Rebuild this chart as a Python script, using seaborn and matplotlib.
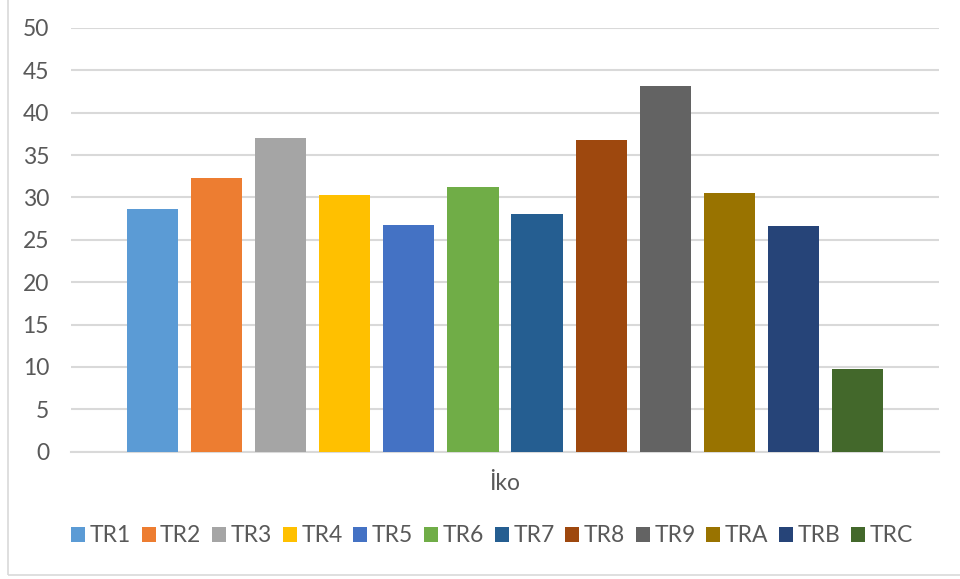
import matplotlib
matplotlib.use("Agg")
import matplotlib.pyplot as plt
from matplotlib.patches import Rectangle, Patch
import seaborn as sns
import pandas as pd

# Data
category = "İko"
regions = ["TR1", "TR2", "TR3", "TR4", "TR5", "TR6",
           "TR7", "TR8", "TR9", "TRA", "TRB", "TRC"]
values = [28.64, 32.28, 37.02, 30.29, 26.75, 31.24,
          28.05, 36.78, 43.16, 30.53, 26.65, 9.76]
colors = ["#5B9BD5", "#ED7D31", "#A5A5A5", "#FFC000", "#4472C4", "#70AD47",
          "#255E91", "#9E480E", "#636363", "#997300", "#264478", "#43682B"]
yticks = [0, 5, 10, 15, 20, 25, 30, 35, 40, 45, 50]

df = pd.DataFrame({"cat": [category] * len(regions), "region": regions, "value": values})

sns.set_theme(style="white")
plt.rcParams["font.family"] = ["Lato", "DejaVu Sans"]
text_color = "#595959"
grid_color = "#D9D9D9"

fig = plt.figure(figsize=(9.6, 5.79), dpi=100)
ax = fig.add_axes([71.3 / 960, 1 - 451.7 / 579, (938.7 - 71.3) / 960, (451.7 - 28) / 579])

sns.barplot(data=df, x="cat", y="value", hue="region", hue_order=regions,
            palette=colors, saturation=1, width=0.8855, gap=0.203,
            linewidth=0, edgecolor="none", legend=False, ax=ax, zorder=3)

ax.set_ylim(0, 50)
ax.set_xlim(-0.5, 0.5)
ax.set_yticks(yticks)
ax.set_yticklabels([str(t) for t in yticks])
ax.yaxis.grid(True, color=grid_color, linewidth=1.5, zorder=0)
ax.set_axisbelow(True)
for side in ["left", "right", "top"]:
    ax.spines[side].set_visible(False)
ax.spines["bottom"].set_color(grid_color)
ax.spines["bottom"].set_linewidth(1.5)
ax.tick_params(axis="y", length=0, pad=16, labelsize=16.5, labelcolor=text_color)
ax.tick_params(axis="x", length=0, pad=15, labelsize=16.5, labelcolor=text_color)
ax.set_xlabel("")
ax.set_ylabel("")

handles = [Patch(facecolor=c, edgecolor="none", label=r) for r, c in zip(regions, colors)]
fig.legend(handles=handles, loc="center", bbox_to_anchor=(492 / 960, 1 - 536 / 579),
           ncol=len(regions), frameon=False, fontsize=16.5, labelcolor=text_color,
           handlelength=0.61, handleheight=0.61, handletextpad=0.2,
           columnspacing=0.47, borderaxespad=0)

# Light chart-area border
fig.patches.append(Rectangle((8 / 960, 4 / 579), 1.0, 1.0, transform=fig.transFigure,
                             fill=False, edgecolor=grid_color, linewidth=1.2))

fig.savefig("out.png", dpi=100, facecolor="white")
